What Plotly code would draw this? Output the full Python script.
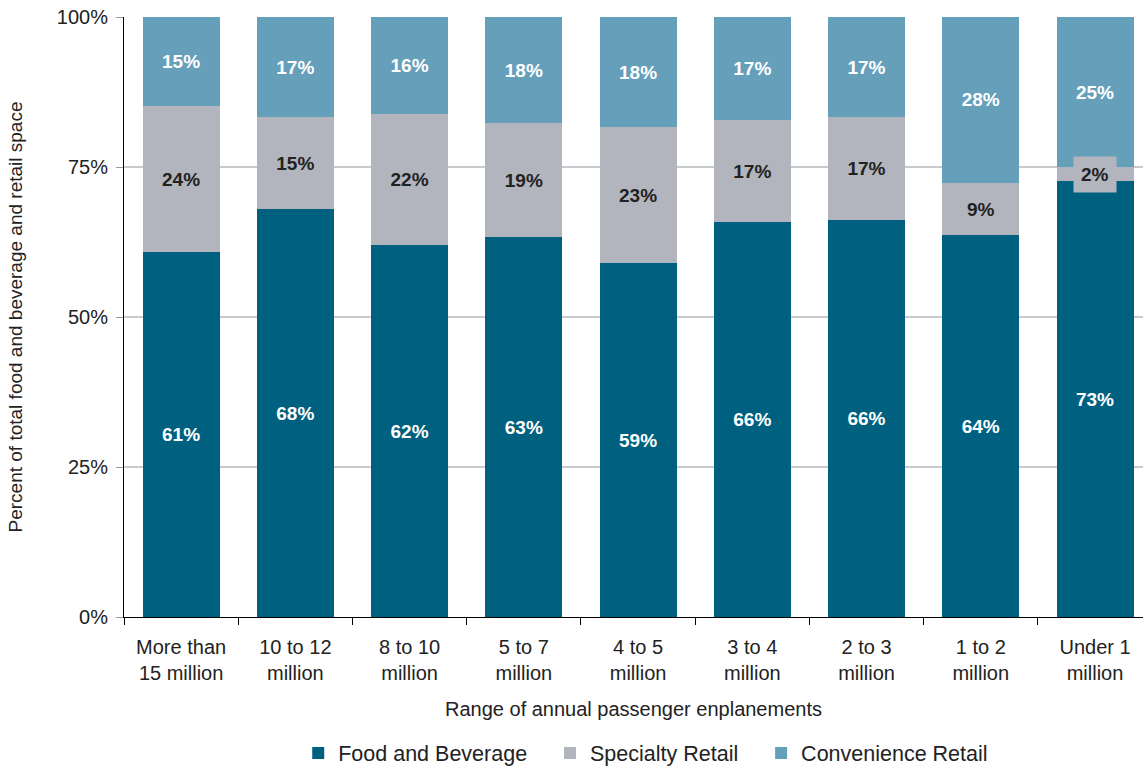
import plotly.graph_objects as go

categories = ["More than<br>15 million", "10 to 12<br>million", "8 to 10<br>million",
              "5 to 7<br>million", "4 to 5<br>million", "3 to 4<br>million",
              "2 to 3<br>million", "1 to 2<br>million", "Under 1<br>million"]
food = [60.8, 68.0, 62.0, 63.3, 59.0, 65.8, 66.2, 63.6, 72.6]
specialty = [24.4, 15.3, 21.8, 19.0, 22.6, 17.0, 17.1, 8.8, 2.4]
convenience = [14.8, 16.7, 16.2, 17.7, 18.4, 17.2, 16.7, 27.6, 25.0]
y_ticks = [0, 25, 50, 75, 100]
y_tick_text = ["0%", "25%", "50%", "75%", "100%"]

FONT = "Liberation Sans, Arial, sans-serif"
c_food = "#00607f"
c_spec = "#b2b5bd"
c_conv = "#659fba"
NB = "\u00a0"  # padding between legend entries


def labels(vals):
    return ["{:.0f}%".format(v) for v in vals]


fig = go.Figure()

# food and beverage at the bottom
fig.add_trace(go.Bar(x=categories, y=food, name="Food and Beverage" + NB * 3,
                     marker=dict(color=c_food, line=dict(width=0)),
                     text=labels(food), textposition="inside",
                     insidetextanchor="middle", textangle=0,
                     textfont=dict(color="white", size=19, family=FONT, weight="bold")))

# the last specialty segment is too thin, so its label goes in an annotation
spec_text = labels(specialty)
spec_text[-1] = ""
fig.add_trace(go.Bar(x=categories, y=specialty, name="Specialty Retail" + NB * 3,
                     marker=dict(color=c_spec, line=dict(width=0)),
                     text=spec_text, textposition="inside",
                     insidetextanchor="middle", textangle=0,
                     textfont=dict(color="#222222", size=19, family=FONT, weight="bold")))

fig.add_trace(go.Bar(x=categories, y=convenience, name="Convenience Retail",
                     marker=dict(color=c_conv, line=dict(width=0)),
                     text=labels(convenience), textposition="inside",
                     insidetextanchor="middle", textangle=0,
                     textfont=dict(color="white", size=19, family=FONT, weight="bold")))

fig.add_annotation(x=categories[-1], y=food[-1] + specialty[-1] / 2,
                   text="<b>{:.0f}%</b>".format(specialty[-1]), showarrow=False,
                   bgcolor=c_spec, borderpad=7,
                   font=dict(color="#222222", size=19, family=FONT))

fig.update_layout(
    barmode="stack",
    bargap=0.326,
    width=1143, height=766,
    margin=dict(l=124, r=0, t=17, b=149, autoexpand=False),
    plot_bgcolor="white", paper_bgcolor="white",
    font=dict(family=FONT, size=19, color="#222222"),
    legend=dict(orientation="h", x=0.512, xanchor="center", y=-0.2267, yanchor="middle",
                font=dict(size=21.5, color="#222222"), traceorder="normal"),
)

fig.update_xaxes(range=[-0.5, 8.42], showline=True, linecolor="black", linewidth=1,
                 ticks="outside", tickson="boundaries", ticklen=7, tickcolor="black",
                 tickfont=dict(size=20), ticklabelstandoff=12, automargin=False,
                 title=dict(text="Range of annual passenger enplanements",
                            font=dict(size=20), standoff=18))

fig.update_yaxes(range=[0, 100], tickmode="array", tickvals=y_ticks, ticktext=y_tick_text,
                 showline=True, linecolor="black", linewidth=1,
                 ticks="outside", ticklen=7, tickcolor="#999999",
                 showgrid=True, gridcolor="#c8cacd", gridwidth=1.5,
                 tickfont=dict(size=20), ticklabelstandoff=4, automargin=False,
                 title=dict(text="Percent of total food and beverage and retail space",
                            font=dict(size=19), standoff=29))

# drop the default 8px body margin so the figure sits at the window's corner
fig.write_html("out.html", config={"displayModeBar": False},
               post_script="document.body.style.margin = '0';")
